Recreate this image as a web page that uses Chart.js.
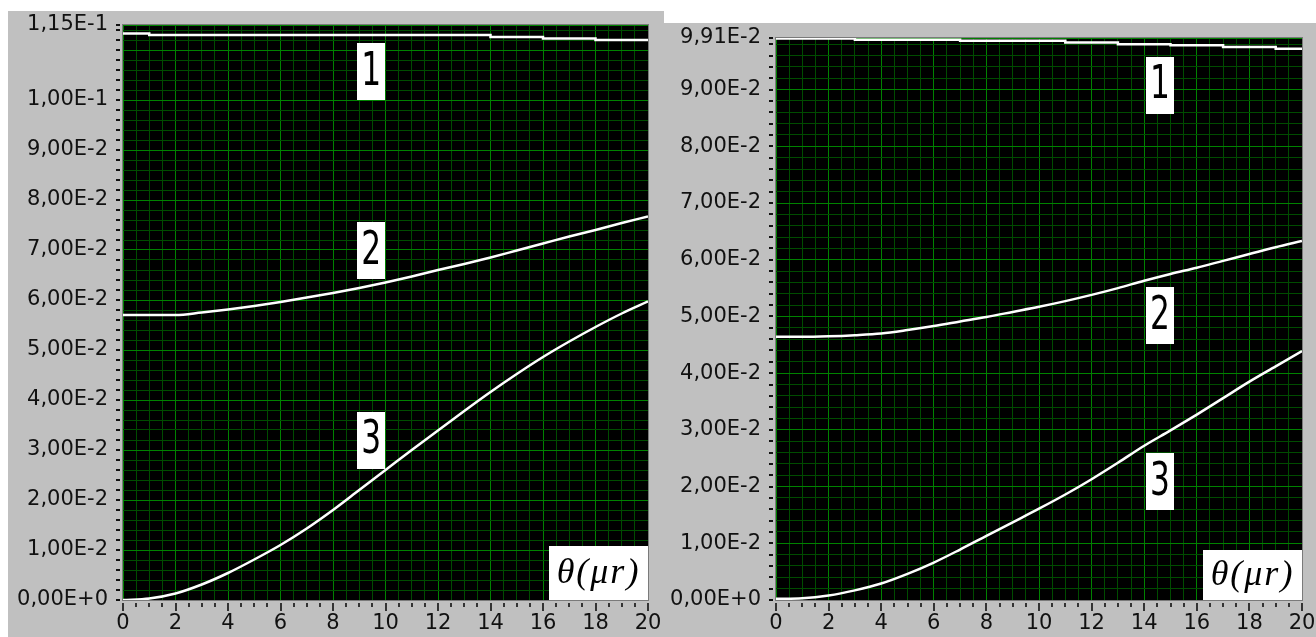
<!DOCTYPE html>
<html>
<head>
<meta charset="utf-8">
<script src="https://cdn.jsdelivr.net/npm/chart.js@4.4.1/dist/chart.umd.min.js"></script>
<style>
html, body { margin: 0; padding: 0; background: #ffffff; }
body { width: 1316px; height: 637px; position: relative; overflow: hidden; }
canvas { position: absolute; background: #c0c0c0; }
#leftChart { left: 8px; top: 11px; }
#rightChart { left: 663px; top: 23px; }
</style>
</head>
<body>
<canvas id="leftChart" width="656" height="626"></canvas>
<canvas id="rightChart" width="653" height="614"></canvas>
<script>
// Datos (theta en microrradianes)
const theta = [0, 1, 2, 3, 4, 5, 6, 7, 8, 9, 10, 11, 12, 13, 14, 15, 16, 17, 18, 19, 20];

// Panel izquierdo
const left1 = [0.1133, 0.1133, 0.1130, 0.1130, 0.1130, 0.1130, 0.1130, 0.1130, 0.1130, 0.1130, 0.1130,
               0.1130, 0.1130, 0.1130, 0.1130, 0.1126, 0.1126, 0.1123, 0.1123, 0.1120, 0.1120];
const left2 = [0.0570, 0.0570, 0.0570, 0.0575, 0.0581, 0.0588, 0.0596, 0.0605, 0.0614, 0.0624, 0.0635,
               0.0647, 0.0660, 0.0672, 0.0685, 0.0699, 0.0713, 0.0727, 0.0740, 0.0754, 0.0767];
const left3 = [0.0000, 0.0003, 0.0013, 0.0031, 0.0054, 0.0081, 0.0110, 0.0143, 0.0180, 0.0220, 0.0260,
               0.0300, 0.0339, 0.0378, 0.0416, 0.0452, 0.0486, 0.0517, 0.0546, 0.0573, 0.0597];

// Panel derecho
const right1 = [0.0990, 0.0990, 0.0990, 0.0990, 0.0988, 0.0988, 0.0988, 0.0988, 0.0986, 0.0986, 0.0986,
                0.0986, 0.0983, 0.0983, 0.0980, 0.0980, 0.0978, 0.0978, 0.0975, 0.0975, 0.0972];
const right2 = [0.0464, 0.0464, 0.0465, 0.0467, 0.0470, 0.0476, 0.0483, 0.0491, 0.0499, 0.0508, 0.0517,
                0.0527, 0.0538, 0.0550, 0.0563, 0.0575, 0.0586, 0.0598, 0.0610, 0.0622, 0.0633];
const right3 = [0.0002, 0.0003, 0.0008, 0.0017, 0.0029, 0.0046, 0.0066, 0.0089, 0.0113, 0.0137, 0.0161,
                0.0186, 0.0213, 0.0242, 0.0272, 0.0299, 0.0327, 0.0356, 0.0385, 0.0412, 0.0439];

// Etiquetas de curva (1, 2, 3) en coordenadas de datos
const curveTags = ["1", "2", "3"];
const leftTagTheta = 9.46;
const leftTagValues = [0.1058, 0.0700, 0.0321];
const rightTagTheta = 14.6;
const rightTagValues = [0.0909, 0.0502, 0.0209];

// Ejes
const axisLabel = "θ(μr)";
const thetaMin = 0, thetaMax = 20, thetaMinorStep = 0.5, thetaLabelStep = 2;
const leftYMax = 0.115;
const rightYMax = 0.0991;
const yMinorStep = 0.002, yLabelStep = 0.01;

const majorGrid = "#008200";
const minorGrid = "#004c00";
const tickColor = "#111111";

Chart.defaults.font.family = "'DejaVu Sans', Verdana, sans-serif";

function fmtExp(v) {
    return v.toExponential(2).replace(".", ",").replace("e", "E");
}

function xTickList() {
    const list = [];
    for (let v = thetaMin; v <= thetaMax + 1e-9; v += thetaMinorStep) list.push(v);
    return list;
}

function yTickList(yMax) {
    const list = [];
    for (let k = 0; k * yMinorStep < yMax - 1e-9; k++) list.push(Math.round(k * yMinorStep * 1e6) / 1e6);
    list.push(yMax);
    return list;
}

function isMajorY(v, yMax) {
    return Math.abs(v / yLabelStep - Math.round(v / yLabelStep)) < 1e-6 || v === yMax;
}

// se muestra la etiqueta si es múltiplo de 0,01 y no choca con la del máximo
function showYLabel(v, yMax) {
    if (v === yMax) return true;
    return isMajorY(v, yMax) && yMax - v > 0.008;
}

// Plugin para fondo negro, marcas, recuadros y etiqueta del eje
const decorPlugin = {
    id: "decor",
    beforeDraw(chart) {
        const a = chart.chartArea;
        const ctx = chart.ctx;
        ctx.save();
        ctx.fillStyle = "#000000";
        ctx.fillRect(a.left, a.top, a.right - a.left, a.bottom - a.top);
        ctx.restore();
    },
    afterDraw(chart) {
        const a = chart.chartArea;
        const ctx = chart.ctx;
        const xs = chart.scales.x, ys = chart.scales.y;
        const cfg = chart.options.plugins.decor;
        ctx.save();

        // marcas del eje y
        ctx.strokeStyle = tickColor;
        ctx.lineWidth = 2;
        ys.ticks.forEach(t => {
            const py = Math.round(ys.getPixelForValue(t.value));
            ctx.beginPath();
            ctx.moveTo(a.left - 7, py);
            ctx.lineTo(a.left - 3, py);
            ctx.stroke();
        });
        // marcas del eje x
        ctx.lineWidth = 1.6;
        xs.ticks.forEach(t => {
            const px = Math.round(xs.getPixelForValue(t.value));
            const len = t.value % thetaLabelStep === 0 ? 8 : 4;
            ctx.beginPath();
            ctx.moveTo(px, a.bottom + 3);
            ctx.lineTo(px, a.bottom + 3 + len);
            ctx.stroke();
        });

        // marco del área
        ctx.strokeStyle = "#7a7a7a";
        ctx.lineWidth = 1;
        ctx.strokeRect(a.left - 0.5, a.top - 0.5, a.right - a.left + 1, a.bottom - a.top + 1);

        // recuadros 1, 2, 3
        cfg.values.forEach((v, i) => {
            const cx = xs.getPixelForValue(cfg.tagTheta);
            const cy = ys.getPixelForValue(v);
            ctx.fillStyle = "#ffffff";
            ctx.fillRect(Math.round(cx - 14), Math.round(cy - 28), 28, 57);
            ctx.save();
            ctx.translate(cx, cy + 2);
            ctx.scale(0.68, 1);
            ctx.fillStyle = "#000000";
            ctx.font = "46px 'DejaVu Sans'";
            ctx.textAlign = "center";
            ctx.textBaseline = "middle";
            ctx.fillText(curveTags[i], 0, 0);
            ctx.restore();
        });

        // etiqueta theta(mu r)
        const bw = 99, bh = cfg.boxH;
        ctx.fillStyle = "#ffffff";
        ctx.fillRect(a.right - bw, a.bottom - bh, bw, bh);
        ctx.fillStyle = "#000000";
        ctx.font = "italic 36px 'Liberation Serif'";
        ctx.textAlign = "center";
        ctx.textBaseline = "middle";
        ctx.letterSpacing = "2px";
        ctx.fillText(axisLabel, a.right - bw / 2, a.bottom - bh / 2 + 1);
        ctx.restore();
    }
};

function makeChart(id, series, yMax, yWidth, padTop, padRight, tagTheta, tagValues, boxH) {
    const ctx = document.getElementById(id).getContext("2d");
    const datasets = series.map((vals, i) => ({
        data: theta.map((t, k) => ({ x: t, y: vals[k] })),
        borderColor: "#ffffff",
        borderWidth: 2.5,
        pointRadius: 0,
        fill: false,
        stepped: i === 0 ? "after" : false,
        cubicInterpolationMode: "monotone"
    }));
    return new Chart(ctx, {
        type: "line",
        data: { datasets },
        options: {
            responsive: false,
            animation: false,
            devicePixelRatio: 1,
            layout: { padding: { top: padTop, right: padRight, left: 0, bottom: 0 } },
            plugins: {
                legend: { display: false },
                tooltip: { enabled: false },
                decor: { tagTheta: tagTheta, values: tagValues, boxH: boxH }
            },
            scales: {
                x: {
                    type: "linear",
                    min: thetaMin,
                    max: thetaMax,
                    afterBuildTicks: s => { s.ticks = xTickList().map(v => ({ value: v })); },
                    afterFit: s => {
                        s.height = 37;
                        s.paddingLeft = 0; s.paddingRight = 0;
                        s.paddingTop = 0; s.paddingBottom = 0;
                    },
                    grid: {
                        drawTicks: false,
                        lineWidth: 1,
                        color: c => (c.tick && c.tick.value % thetaLabelStep === 0) ? majorGrid : minorGrid
                    },
                    border: { display: false },
                    ticks: {
                        autoSkip: false,
                        maxRotation: 0,
                        padding: 11,
                        color: tickColor,
                        font: { size: 21 },
                        callback: v => (v % thetaLabelStep === 0 ? String(v) : "")
                    }
                },
                y: {
                    type: "linear",
                    min: 0,
                    max: yMax,
                    afterBuildTicks: s => { s.ticks = yTickList(yMax).map(v => ({ value: v })); },
                    afterFit: s => {
                        s.width = yWidth;
                        s.paddingLeft = 0; s.paddingRight = 0;
                        s.paddingTop = 0; s.paddingBottom = 0;
                    },
                    grid: {
                        drawTicks: false,
                        lineWidth: 1,
                        color: c => (c.tick && isMajorY(c.tick.value, yMax)) ? majorGrid : minorGrid
                    },
                    border: { display: false },
                    ticks: {
                        autoSkip: false,
                        padding: 15,
                        color: tickColor,
                        font: { size: 21 },
                        callback: v => (showYLabel(v, yMax) ? fmtExp(v) : "")
                    }
                }
            }
        },
        plugins: [decorPlugin]
    });
}

makeChart("leftChart", [left1, left2, left3], leftYMax, 115, 14, 16, leftTagTheta, leftTagValues, 54);
makeChart("rightChart", [right1, right2, right3], rightYMax, 113, 15, 14, rightTagTheta, rightTagValues, 50);
</script>
</body>
</html>
